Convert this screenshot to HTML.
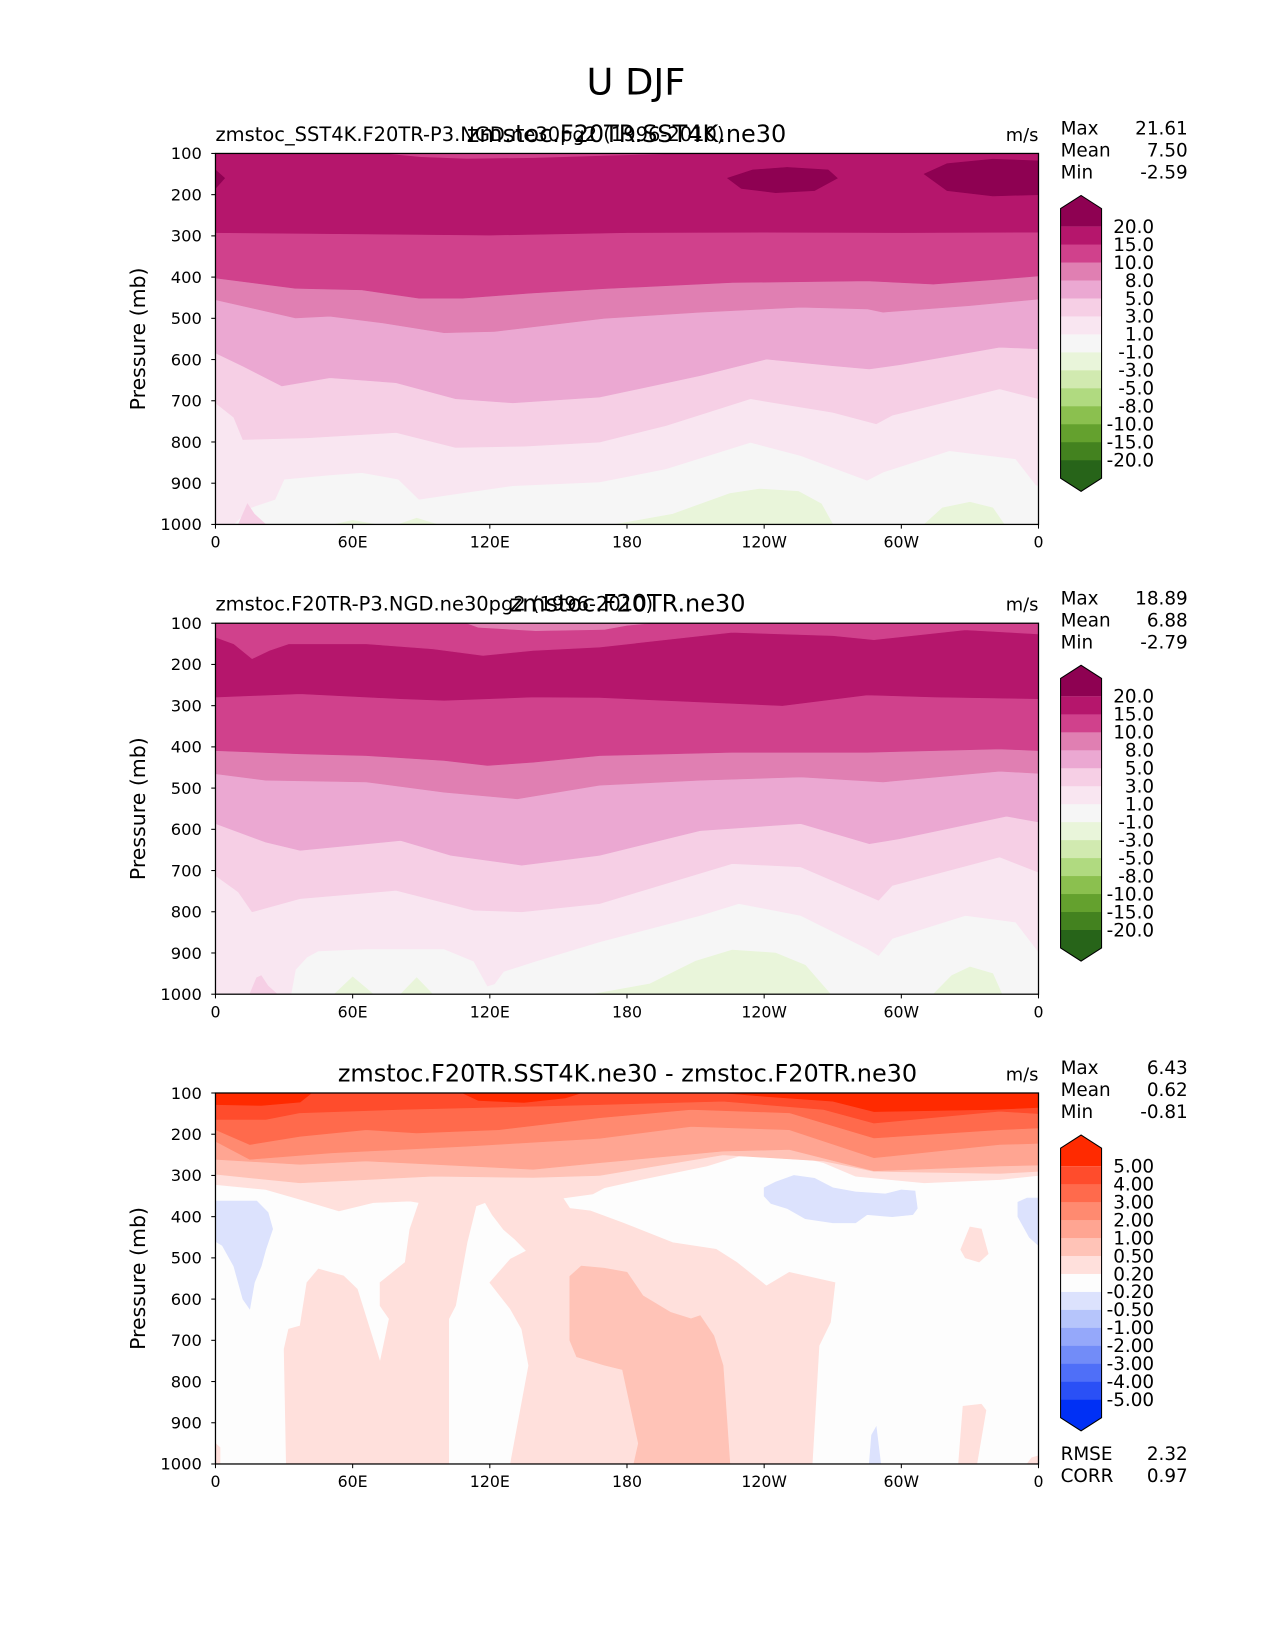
<!DOCTYPE html>
<html><head><meta charset="utf-8"><style>
html,body{margin:0;padding:0;background:#fff;}
svg{display:block;font-family:"DejaVu Sans","Liberation Sans",sans-serif;}
</style></head><body>
<svg id="fig" width="1275" height="1650" viewBox="0 0 1213 1570" preserveAspectRatio="none" xmlns="http://www.w3.org/2000/svg">
<rect x="0" y="0" width="1213" height="1570" fill="#fff"/>
<text x="605" y="90" font-size="35" text-anchor="middle">U DJF</text>
<g id="root"></g>
</svg>
<script>
// ---- shared axis data ----
const lonTicks=[0,60,120,180,240,300,360];
const lonTickLabels=['0','60E','120E','180','120W','60W','0'];
const presTicks=[100,200,300,400,500,600,700,800,900,1000];

// ---- panel 1 (SST4K) contour boundaries [lon, pressure] ----
const u1_b1=[[0,1000],[8,1000],[15,960],[26,939],[30,890],[50,880],[64,874],[80,890],[89,939],[100,930],[130,906],[168,897],[197,865],[234,801],[256,833],[285,893],[292,873],[321,821],[350,841],[359,905],[360,905]];
const u1_b3=[[0,705],[8,740],[12,794],[40,790],[79,777],[105,813],[135,810],[168,800],[197,760],[234,695],[270,728],[289,756],[296,735],[343,671],[360,695]];
const u1_b5=[[0,584],[12,616],[29,664],[50,644],[79,656],[105,695],[130,705],[168,691],[212,639],[241,599],[270,615],[286,623],[300,612],[343,570],[360,574]];
const u1_b8=[[0,455],[35,499],[50,495],[73,511],[100,535],[122,532],[170,500],[212,485],[256,473],[285,477],[292,485],[330,469],[360,453]];
const u1_b10=[[0,402],[35,427],[64,431],[89,451],[108,451],[137,439],[170,428],[226,413],[285,409],[314,417],[343,405],[360,397]];
const u1_b15=[[0,292],[60,295],[120,298],[180,292],[240,291],[300,292],[360,291]];
const u1_top=[[75,100],[90,108],[110,112],[140,110],[175,104],[200,100]];
const u1_max=[[[224,160],[235,140],[250,134],[268,140],[272,160],[262,190],[245,195],[230,185]],[[310,150],[320,125],[340,114],[360,118],[360,200],[340,203],[320,190]],[[0,140],[4,160],[0,185]]];
const u1_green=[[[175,1000],[200,975],[225,925],[238,914],[255,920],[265,950],[270,1000]],[[310,1000],[318,960],[330,946],[340,960],[345,1000]],[[52,1000],[60,990],[70,1000]],[[80,1000],[88,985],[97,1000]]];
const u1_spike=[[10,1000],[14,950],[17,975],[22,1000]];

// ---- panel 2 (control) ----
const u2_b1=[[0,1000],[33,1000],[35,940],[40,910],[45,895],[66,890],[100,890],[113,920],[119,980],[122,975],[126,945],[140,920],[168,873],[212,809],[229,780],[256,809],[285,889],[290,906],[296,865],[328,809],[350,825],[360,897]];
const u2_b3=[[0,712],[10,752],[16,800],[37,768],[79,748],[113,796],[134,800],[168,780],[226,683],[256,691],[290,772],[296,736],[343,667],[360,704]];
const u2_b5=[[0,586],[22,631],[37,651],[81,627],[103,663],[134,687],[168,663],[212,603],[256,586],[286,635],[299,623],[346,568],[360,582]];
const u2_b8=[[0,465],[22,481],[66,485],[100,510],[132,526],[168,493],[212,481],[256,473],[292,485],[343,459],[360,464]];
const u2_b10=[[0,409],[37,417],[66,421],[100,433],[119,445],[139,437],[168,421],[226,413],[285,413],[343,405],[360,409]];
const u2_b15=[[0,279],[37,271],[81,283],[100,287],[139,279],[168,280],[212,291],[248,300],[285,274],[314,279],[360,283]];
const u2_b15top=[[0,134],[8,150],[16,186],[24,165],[32,150],[66,150],[95,162],[117,178],[139,166],[168,158],[226,122],[270,130],[288,140],[328,116],[360,126]];
const u2_top=[[110,100],[115,110],[140,118],[170,115],[180,105],[190,100]];
const u2_green=[[[165,1000],[190,975],[210,920],[226,893],[245,900],[258,930],[269,1000]],[[314,1000],[322,955],[330,934],[340,950],[344,1000]],[[52,1000],[60,958],[69,1000]],[[81,1000],[88,960],[95,1000]]];
const u2_spike=[[15,1000],[18,960],[20,955],[23,980],[27,1000]];

// ---- panel 3 (difference) ----
const d_b5=[[0,128],[20,130],[37,122],[42,100],[108,100],[115,118],[135,123],[153,112],[160,100],[222,100],[240,108],[270,120],[288,145],[340,140],[360,135]];
const d_b4=[[0,164],[22,164],[37,148],[80,140],[168,128],[222,120],[266,140],[288,173],[343,144],[360,150]];
const d_b3=[[0,189],[15,225],[37,205],[66,189],[88,197],[124,189],[168,160],[208,140],[251,148],[288,209],[343,189],[360,185]];
const d_b2=[[0,217],[15,261],[51,245],[110,229],[168,210],[208,181],[251,189],[288,257],[343,225],[360,222]];
const d_b1=[[0,261],[37,273],[66,265],[139,285],[168,269],[222,241],[251,237],[288,289],[343,277],[360,275]];
const d_b05=[[0,297],[37,318],[95,302],[139,305],[168,300],[222,250],[266,265],[288,290],[343,295],[360,290]];
const d_pink=[[0,100],[360,100],[360,300],[343,310],[310,318],[280,302],[266,269],[254,253],[229,253],[215,277],[186,310],[170,330],[165,345],[152,355],[155,380],[164,386],[178,415],[200,463],[219,479],[228,511],[241,568],[251,535],[271,560],[269,656],[264,713],[261,1000],[129,1000],[137,761],[134,673],[129,624],[120,560],[129,503],[136,483],[131,455],[126,431],[121,395],[118,366],[114,374],[110,463],[105,616],[102,648],[102,1000],[31,1000],[30,721],[32,673],[37,665],[40,560],[45,527],[56,544],[62,576],[72,753],[76,648],[72,616],[72,560],[83,511],[85,431],[89,366],[85,362],[69,366],[54,386],[37,358],[22,334],[0,322]];
const d_salmon=[[155,545],[160,520],[170,525],[180,535],[187,592],[199,632],[208,648],[212,640],[218,689],[222,761],[225,1000],[183,1000],[185,950],[178,771],[170,760],[158,740],[155,700]];
const d_blue=[[[0,362],[18,362],[23,390],[25,430],[22,480],[20,520],[17,560],[15,624],[12,600],[8,520],[3,470],[0,460]],[[240,330],[245,316],[253,300],[262,307],[270,330],[280,340],[293,345],[300,335],[306,338],[307,380],[305,395],[296,400],[285,395],[280,415],[270,415],[258,405],[250,380],[243,368],[240,350]],[[351,365],[355,355],[360,355],[360,470],[356,450],[351,400]],[[286,1000],[287,930],[289,910],[291,1000]]];
const d_smallpink=[[[326,480],[330,425],[335,430],[338,490],[334,510],[328,500]],[[325,1000],[327,860],[335,855],[337,870],[333,1000]],[[355,1000],[357,985],[360,980],[360,1000]],[[0,1000],[0,950],[2,960],[2,1000]]];

// ---- colorbar data ----
const piygLabels=['20.0','15.0','10.0','8.0','5.0','3.0','1.0','-1.0','-3.0','-5.0','-8.0','-10.0','-15.0','-20.0'];
const piygColors=['#8e0152','#b5166c','#d0418c','#e07fb2','#eba8d2','#f6cfe5','#f9e6f1','#f6f6f6','#e9f5da','#d1eab0','#b0da80','#8bc04f','#64a12e','#43821f','#276419'];
const diffLabels=['5.00','4.00','3.00','2.00','1.00','0.50','0.20','-0.20','-0.50','-1.00','-2.00','-3.00','-4.00','-5.00'];
const diffColors=['#ff2a00','#ff4c2c','#ff6a4c','#ff8a70','#ffa592','#ffc3b7','#ffe0dc','#fdfdfd','#dce2fd','#b6c5fb','#95a8fa','#728cf8','#4f6ff8','#2a50f6','#0030f5'];
const stats1=['21.61','7.50','-2.59'];
const stats2=['18.89','6.88','-2.79'];
const stats3=['6.43','0.62','-0.81'];
const statNames=['Max','Mean','Min'];

const NS='http://www.w3.org/2000/svg';
const root=document.getElementById('root');
const X0=205,X1=988,PH=353;
function xs(lon){return X0+lon/360*(X1-X0);}
function ys(top,p){return top+(p-100)/900*PH;}
function mk(tag,attrs,parent){const e=document.createElementNS(NS,tag);for(const k in attrs)e.setAttribute(k,attrs[k]);(parent||root).appendChild(e);return e;}
function txt(s,attrs,parent){const e=mk('text',attrs,parent);e.textContent=s;return e;}

function panel(idx,top,cfg){
  const g=mk('g',{});
  
  
  const cid='clip'+idx;
  const cp=mk('clipPath',{id:cid},g);
  mk('rect',{x:X0,y:top,width:X1-X0,height:PH},cp);
  const plot=mk('g',{'clip-path':'url(#'+cid+')'},g);
  
  
  mk('rect',{x:X0,y:top,width:X1-X0,height:PH,fill:cfg.bg},plot);
  function poly(pts,color,name){
    const s=pts.map(q=>xs(q[0]).toFixed(1)+','+ys(top,q[1]).toFixed(1)).join(' ');
    const e=mk('polygon',{points:s,fill:color,stroke:color,'stroke-width':0.6},plot);
    
    
  }
  function above(b,color,name){poly([[0,100]].concat(b).concat([[360,100]]),color,name);}
  cfg.draw(poly,above);
  const fr=mk('rect',{x:X0,y:top,width:X1-X0,height:PH,fill:'none',stroke:'#000','stroke-width':1.2},g);
  
  
  presTicks.forEach(p=>{
    const y=ys(top,p);
    mk('line',{x1:X0-4,x2:X0,y1:y,y2:y,stroke:'#000','stroke-width':1},g);
    const t=txt(String(p),{x:X0-13,y:y+5.5,'font-size':15.5,'text-anchor':'end'},g);
    
    
  });
  lonTicks.forEach((l,i)=>{
    const x=xs(l);
    mk('line',{x1:x,x2:x,y1:top+PH,y2:top+PH+4,stroke:'#000','stroke-width':1},g);
    const t=txt(lonTickLabels[i],{x:x,y:top+PH+22,'font-size':15,'text-anchor':'middle'},g);
    
    
  });
  const yl=txt('Pressure (mb)',{x:0,y:0,'font-size':19.5,'text-anchor':'middle',transform:'translate(138,'+(top+PH/2)+') rotate(-90)'},g);
  
  
  if(cfg.left){const t=txt(cfg.left,{x:X0,y:top-12,'font-size':18.5},g);}
  const ct=txt(cfg.center,{x:cfg.centerX,y:top-11,'font-size':22.8,'text-anchor':'middle'},g);
  
  
  const ut=txt('m/s',{x:X1,y:top-12,'font-size':17,'text-anchor':'end'},g);
  
  
  cfg.stats.forEach((v,i)=>{
    const n=txt(statNames[i],{x:1009,y:top-18+i*21,'font-size':17.5},g);
    
    
    const s=txt(v,{x:1130,y:top-18+i*21,'font-size':17.5,'text-anchor':'end'},g);
    
    
  });
  const cb=mk('g',{},g);
  
  
  const cx0=1009,cx1=1048,cy0=top+69.6,step=17.1,n=cfg.labels.length;
  const cols=cfg.colors;
  const tp=mk('polygon',{points:cx0+','+(cy0-17.1)+' '+(cx0+cx1)/2+','+(cy0-29.6)+' '+cx1+','+(cy0-17.1)+' '+cx1+','+cy0+' '+cx0+','+cy0,fill:cols[0]},cb);
  
  
  for(let i=0;i<n-1;i++){
    const r=mk('rect',{x:cx0,y:cy0+i*step,width:cx1-cx0,height:step+0.4,fill:cols[i+1]},cb);
    
    
  }
  const yb=cy0+(n-1)*step;
  const bp=mk('polygon',{points:cx0+','+yb+' '+cx1+','+yb+' '+cx1+','+(yb+17.1)+' '+(cx0+cx1)/2+','+(yb+29.6)+' '+cx0+','+(yb+17.1),fill:cols[cols.length-1]},cb);
  
  
  mk('polygon',{points:cx0+','+(cy0-17.1)+' '+(cx0+cx1)/2+','+(cy0-29.6)+' '+cx1+','+(cy0-17.1)+' '+cx1+','+(yb+17.1)+' '+(cx0+cx1)/2+','+(yb+29.6)+' '+cx0+','+(yb+17.1),fill:'none',stroke:'#000','stroke-width':1},cb);
  cfg.labels.forEach((l,i)=>{
    const t=txt(l,{x:1098,y:cy0+i*step+6,'font-size':17.5,'text-anchor':'end'},cb);
    
    
  });
}

const C=piygColors;
panel(1,146,{bg:C[7],left:'zmstoc_SST4K.F20TR-P3.NGD.ne30pg2 (1996-2010)',center:'zmstoc.F20TR.SST4K.ne30',centerX:596,stats:stats1,labels:piygLabels,colors:piygColors,
 draw:function(poly,above){
  u1_green.forEach(b=>poly(b,C[8],'negative-wind-region'));
  above(u1_b1,C[6],'band-1-3');
  poly(u1_spike,C[5],'band-3-5-spike');
  above(u1_b3,C[5],'band-3-5');
  above(u1_b5,C[4],'band-5-8');
  above(u1_b8,C[3],'band-8-10');
  above(u1_b10,C[2],'band-10-15');
  above(u1_b15,C[1],'band-15-20');
  poly(u1_top,C[2],'band-10-15-top');
  u1_max.forEach(b=>poly(b,C[0],'jet-core-above-20'));
 }});
panel(2,593,{bg:C[7],left:'zmstoc.F20TR-P3.NGD.ne30pg2 (1996-2010)',center:'zmstoc.F20TR.ne30',centerX:597,stats:stats2,labels:piygLabels,colors:piygColors,
 draw:function(poly,above){
  u2_green.forEach(b=>poly(b,C[8],'negative-wind-region'));
  above(u2_b1,C[6],'band-1-3');
  poly(u2_spike,C[5],'band-3-5-spike');
  above(u2_b3,C[5],'band-3-5');
  above(u2_b5,C[4],'band-5-8');
  above(u2_b8,C[3],'band-8-10');
  above(u2_b10,C[2],'band-10-15');
  above(u2_b15,C[1],'band-15-20');
  above(u2_b15top,C[2],'band-10-15-top');
  poly(u2_top,C[3],'band-8-10-top');
 }});
const D=diffColors;
panel(3,1040,{bg:D[7],left:null,center:'zmstoc.F20TR.SST4K.ne30 - zmstoc.F20TR.ne30',centerX:597,stats:stats3,labels:diffLabels,colors:diffColors,
 draw:function(poly,above){
  poly(d_pink,D[6],'diff-band-0.2-0.5');
  poly(d_salmon,D[5],'diff-band-0.5-1');
  d_smallpink.forEach(b=>poly(b,D[6],'diff-band-0.2-0.5-small'));
  d_blue.forEach(b=>poly(b,D[8],'diff-band-negative'));
  above(d_b05,D[5],'diff-band-0.5-1-top');
  above(d_b1,D[4],'diff-band-1-2');
  above(d_b2,D[3],'diff-band-2-3');
  above(d_b3,D[2],'diff-band-3-4');
  above(d_b4,D[1],'diff-band-4-5');
  above(d_b5,D[0],'diff-band-above-5');
 }});
const rm=[['RMSE','2.32'],['CORR','0.97']];
rm.forEach((r,i)=>{
  const a=txt(r[0],{x:1009,y:1389+i*21,'font-size':17.5});
  
  
  const b=txt(r[1],{x:1130,y:1389+i*21,'font-size':17.5,'text-anchor':'end'});
  
  
});
</script>
</body></html>
